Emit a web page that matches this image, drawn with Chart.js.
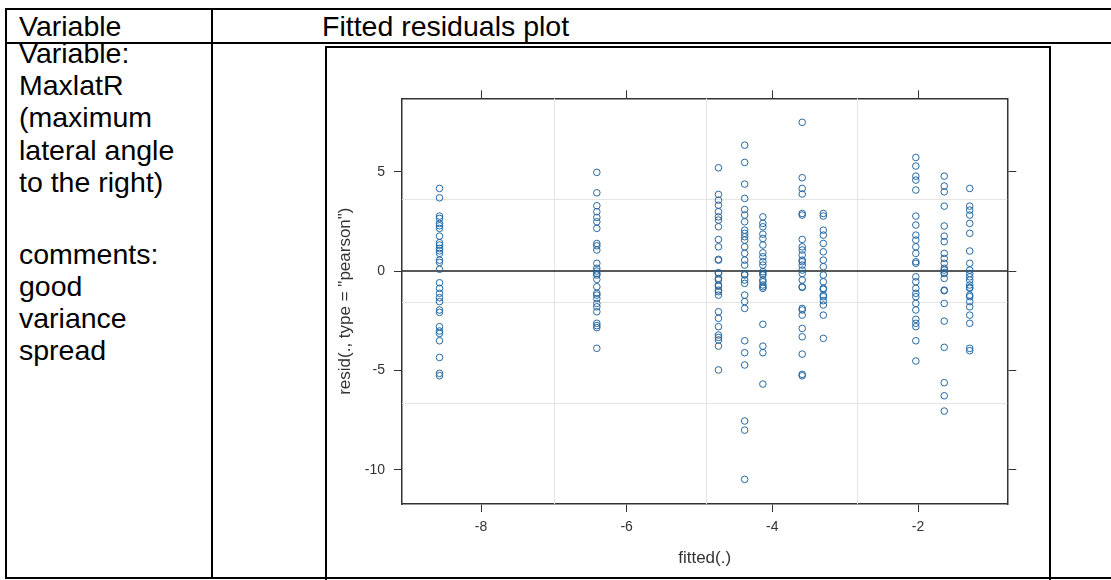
<!DOCTYPE html>
<html><head><meta charset="utf-8">
<script src="https://cdn.jsdelivr.net/npm/chart.js@4.4.1/dist/chart.umd.min.js"></script>
<style>
html,body{margin:0;padding:0;background:#fff;width:1111px;height:580px;overflow:hidden;position:relative;font-family:"Liberation Sans",Arial,sans-serif;}
.ln{position:absolute;background:#000;}
.t{position:absolute;font-size:28.5px;line-height:1;color:#000;white-space:nowrap;}
#frame{position:absolute;left:325px;top:46px;width:726px;height:560px;border:2px solid #000;box-sizing:border-box;}
#wrap{position:absolute;left:327px;top:48px;width:722px;height:529px;}
</style></head>
<body>
<div class="ln" style="left:5px;top:8px;width:1120px;height:2px"></div>
<div class="ln" style="left:5px;top:42px;width:1120px;height:2px"></div>
<div class="ln" style="left:5px;top:577px;width:1120px;height:2px"></div>
<div class="ln" style="left:5px;top:8px;width:2px;height:571px"></div>
<div class="ln" style="left:211px;top:8px;width:2px;height:571px"></div>
<div class="t" style="left:19px;top:12.4px">Variable</div>
<div class="t" style="left:322px;top:12.4px">Fitted residuals plot</div>
<div class="t" style="left:19px;top:39.2px">Variable:</div>
<div class="t" style="left:19px;top:71.3px">MaxlatR</div>
<div class="t" style="left:19px;top:103.4px">(maximum</div>
<div class="t" style="left:19px;top:135.5px">lateral angle</div>
<div class="t" style="left:19px;top:167.6px">to the right)</div>
<div class="t" style="left:19px;top:239.9px">comments:</div>
<div class="t" style="left:19px;top:272px">good</div>
<div class="t" style="left:19px;top:304.1px">variance</div>
<div class="t" style="left:19px;top:336.2px">spread</div>
<div id="frame"></div>
<div id="wrap"><canvas id="c" width="722" height="529"></canvas></div>
<script>
// ---- data ----
const fittedLevels = [-8.57, -6.41, -4.74, -4.38, -4.13, -3.59, -3.30, -2.03, -1.64, -1.29];
const resid_g1 = [4.16, 3.69, 2.77, 2.65, 2.40, 2.28, 2.15, 1.76, 1.43, 1.31, 1.14, 1.02, 0.89, 0.55, 0.44, 0.09, -0.59, -0.87, -1.12, -1.34, -1.54, -1.96, -2.08, -2.80, -3.02, -3.14, -3.51, -4.35, -5.15, -5.27];
const resid_g2 = [4.97, 3.94, 3.29, 2.99, 2.70, 2.48, 2.15, 1.39, 1.27, 1.06, 0.39, 0.14, 0.0, -0.12, -0.2, -0.42, -0.79, -1.12, -1.21, -1.38, -1.63, -1.80, -2.05, -2.63, -2.75, -2.85, -3.89];
const resid_g3 = [5.20, 3.86, 3.57, 3.32, 2.99, 2.73, 2.57, 2.23, 1.59, 1.22, 0.59, 0.55, -0.08, -0.12, -0.37, -0.45, -0.70, -0.76, -0.96, -1.04, -1.21, -2.05, -2.38, -2.80, -3.22, -3.34, -3.47, -3.78, -4.98];
const resid_g4 = [6.34, 5.47, 4.38, 3.66, 3.10, 2.82, 2.48, 2.06, 1.90, 1.73, 1.56, 1.22, 0.89, 0.55, 0.30, -0.15, -0.20, -0.45, -0.62, -1.21, -1.54, -1.88, -3.51, -4.11, -4.73, -7.55, -8.01, -10.49];
const resid_g5 = [2.73, 2.40, 2.23, 1.86, 1.64, 1.31, 0.92, 0.72, 0.47, 0.30, -0.03, -0.12, -0.20, -0.45, -0.54, -0.70, -0.79, -0.87, -2.68, -3.78, -4.11, -5.69];
const resid_g6 = [7.49, 4.70, 4.16, 3.88, 2.90, 2.82, 1.59, 1.22, 1.06, 0.81, 0.55, 0.47, 0.30, 0.05, -0.12, -0.45, -0.79, -0.82, -1.88, -1.96, -2.22, -2.89, -3.31, -4.18, -5.20, -5.27];
const resid_g7 = [2.90, 2.77, 2.06, 1.81, 1.39, 0.97, 0.55, 0.22, -0.20, -0.54, -0.87, -0.92, -1.21, -1.29, -1.49, -1.71, -2.22, -3.39];
const resid_g8 = [5.72, 5.29, 4.78, 4.58, 4.08, 2.77, 2.32, 1.81, 1.56, 1.22, 0.89, 0.47, 0.39, -0.29, -0.54, -0.87, -1.12, -1.29, -1.63, -1.96, -2.43, -2.63, -2.80, -3.51, -4.53];
const resid_g9 = [4.78, 4.28, 3.99, 3.27, 2.27, 1.76, 1.48, 0.89, 0.64, 0.39, 0.14, 0.05, -0.08, -0.12, -0.37, -0.96, -0.99, -1.63, -2.52, -3.84, -5.62, -6.28, -7.05];
const resid_g10 = [4.16, 3.27, 3.07, 2.82, 2.40, 1.90, 1.01, 0.39, 0.05, -0.12, -0.29, -0.45, -0.70, -0.82, -0.87, -1.21, -1.29, -1.54, -1.80, -2.22, -2.63, -3.89, -4.01];
const residGroups = [resid_g1, resid_g2, resid_g3, resid_g4, resid_g5, resid_g6, resid_g7, resid_g8, resid_g9, resid_g10];
const xTicks = [-8, -6, -4, -2];
const yTicks = [-10, -5, 0, 5];
const xGridValues = [-7.0, -4.91, -2.84];
const yGridValues = [3.62, -1.54, -6.66];
const xRange = [-9.085, -0.774];
const yRange = [-11.73, 8.70];
const xTitle = 'fitted(.)';
const yTitle = 'resid(., type = "pearson")';

const points = fittedLevels.flatMap((fx, i) => residGroups[i].map(r => ({x: fx, y: r})));

Chart.defaults.font.family = '"Liberation Sans", Arial, sans-serif';
const AX = '#333';

const gridPlugin = {
  id: 'latticeGrid',
  beforeDatasetsDraw(chart) {
    const {ctx, chartArea: a, scales: {x, y}} = chart;
    ctx.save();
    ctx.strokeStyle = '#e4e4e4';
    ctx.lineWidth = 1;
    xGridValues.forEach(v => { const p = Math.round(x.getPixelForValue(v)) + 0.5; ctx.beginPath(); ctx.moveTo(p, a.top); ctx.lineTo(p, a.bottom); ctx.stroke(); });
    yGridValues.forEach(v => { const p = Math.round(y.getPixelForValue(v)) + 0.5; ctx.beginPath(); ctx.moveTo(a.left, p); ctx.lineTo(a.right, p); ctx.stroke(); });
    ctx.strokeStyle = '#222';
    ctx.lineWidth = 1.5;
    const z = y.getPixelForValue(0);
    ctx.beginPath(); ctx.moveTo(a.left, z); ctx.lineTo(a.right, z); ctx.stroke();
    ctx.restore();
  }
};

function setTicks(arr) { return s => { s.ticks = arr.map(v => ({value: v})); }; }

new Chart(document.getElementById('c'), {
  type: 'scatter',
  data: { datasets: [{
    data: points,
    pointStyle: 'circle',
    pointRadius: 3.3,
    borderWidth: 1,
    borderColor: 'rgba(28,98,158,0.95)',
    backgroundColor: 'rgba(0,0,0,0)',
    xAxisID: 'x', yAxisID: 'y'
  }]},
  options: {
    responsive: false,
    animation: false,
    devicePixelRatio: 1,
    layout: { padding: 0 },
    plugins: { legend: {display: false}, tooltip: {enabled: false} },
    scales: {
      x: {
        type: 'linear', position: 'bottom', min: xRange[0], max: xRange[1],
        afterBuildTicks: setTicks(xTicks),
        afterFit: s => { s.height = 73; },
        grid: { drawOnChartArea: false, drawTicks: true, tickLength: 8, color: AX, lineWidth: 1 },
        border: { display: true, color: AX, width: 1.5 },
        ticks: { font: {size: 14}, color: AX, padding: 7, maxRotation: 0, autoSkip: false },
        title: { display: true, text: xTitle, font: {size: 17}, color: AX, padding: {top: 0, bottom: 8} }
      },
      x2: {
        type: 'linear', position: 'top', min: xRange[0], max: xRange[1],
        afterBuildTicks: setTicks(xTicks),
        afterFit: s => { s.height = 50.3; },
        grid: { drawOnChartArea: false, drawTicks: true, tickLength: 8, color: AX, lineWidth: 1 },
        border: { display: true, color: AX, width: 1.5 },
        ticks: { display: false }
      },
      y: {
        type: 'linear', position: 'left', min: yRange[0], max: yRange[1],
        afterBuildTicks: setTicks(yTicks),
        afterFit: s => { s.width = 75; },
        grid: { drawOnChartArea: false, drawTicks: true, tickLength: 8, color: AX, lineWidth: 1 },
        border: { display: true, color: AX, width: 1.5 },
        ticks: { font: {size: 14}, color: AX, padding: 9 },
        title: { display: true, text: yTitle, font: {size: 17}, color: AX, padding: {top: 7.8, bottom: 0} }
      },
      y2: {
        type: 'linear', position: 'right', min: yRange[0], max: yRange[1],
        afterBuildTicks: setTicks(yTicks),
        afterFit: s => { s.width = 41.7; },
        grid: { drawOnChartArea: false, drawTicks: true, tickLength: 9, color: AX, lineWidth: 1 },
        border: { display: true, color: AX, width: 1.5 },
        ticks: { display: false }
      }
    }
  },
  plugins: [gridPlugin]
});
</script>
</body></html>
